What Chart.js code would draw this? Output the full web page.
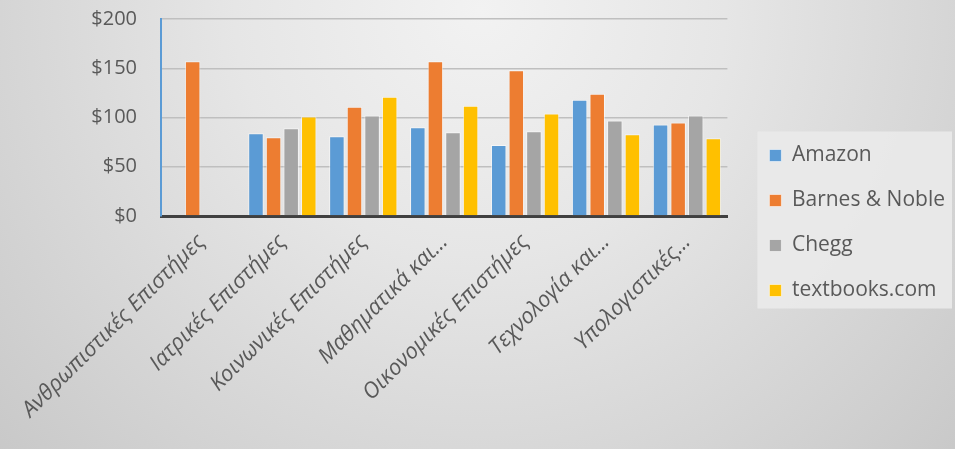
<!DOCTYPE html>
<html>
<head>
<meta charset="utf-8">
<script src="https://cdn.jsdelivr.net/npm/chart.js@4"></script>
<style>
  html, body { margin: 0; padding: 0; background: #d8d8d8; }
  #wrap { width: 955px; height: 449px; position: relative; }
</style>
</head>
<body>
<div id="wrap"><canvas id="barChart" width="955" height="449"></canvas></div>
<script>
const categories = [
    'Ανθρωπιστικές Επιστήμες',
    'Ιατρικές Επιστήμες',
    'Κοινωνικές Επιστήμες',
    'Μαθηματικά και...',
    'Οικονομικές Επιστήμες',
    'Τεχνολογία και...',
    'Υπολογιστικές...'
]

const amazon      = [null, 84, 81, 90, 72, 118, 93]
const barnesNoble = [157, 80, 111, 157, 148, 124, 95]
const chegg       = [null, 89, 102, 85, 86, 97, 102]
const textbooks   = [null, 101, 121, 112, 104, 83, 79]

const yTicks = [0, 50, 100, 150, 200]

const textColor = '#595959'

// background + legend panel, legend nudged to where Excel puts it
const backdrop = {
    id: 'backdrop',
    afterLayout(chart) {
        const lg = chart.legend
        lg.left += 18; lg.right += 18
        lg.top -= 11; lg.bottom -= 11
    },
    beforeDraw(chart) {
        const c = chart.ctx
        const w = chart.width, h = chart.height
        c.save()
        let g = c.createRadialGradient(480, 10, 0, 480, 10, 700)
        g.addColorStop(0, '#f2f2f2')
        g.addColorStop(0.35, '#e6e6e6')
        g.addColorStop(1, '#c5c5c5')
        c.fillStyle = g
        c.fillRect(0, 0, w, h)

        const lg = chart.legend
        const boxes = lg.legendHitBoxes
        if (boxes && boxes.length) {
            const n = boxes.length
            const pitch = n > 1 ? boxes[1].top - boxes[0].top : 45
            const firstC = lg.top + (lg.height - pitch * (n - 1)) / 2
            const lastC = firstC + pitch * (n - 1)
            const left = lg.left + 12
            c.fillStyle = 'rgba(234,234,234,0.9)'
            c.fillRect(left, firstC - 24, w - 3 - left, lastC - firstC + 42)
        }
        c.restore()
    }
}

const ctx = document.getElementById('barChart').getContext('2d')

const mkSet = (label, values, color) => ({
    label,
    data: values,
    backgroundColor: color,
    borderColor: 'rgba(255,255,255,0.55)',
    borderWidth: 1,
    categoryPercentage: 0.87,
    barPercentage: 0.88,
})

const config = {
    type: 'bar',
    data: {
        labels: categories,
        datasets: [
            mkSet('Amazon', amazon, '#5b9bd5'),
            mkSet('Barnes & Noble', barnesNoble, '#ed7d31'),
            mkSet('Chegg', chegg, '#a5a5a5'),
            mkSet('textbooks.com', textbooks, '#ffc000'),
        ],
    },
    options: {
        responsive: false,
        animation: false,
        layout: { padding: { top: 19, right: 18, bottom: 0, left: 0 } },
        plugins: {
            tooltip: { enabled: false },
            legend: {
                position: 'right',
                labels: {
                    boxWidth: 12,
                    boxHeight: 12,
                    padding: 24,
                    color: textColor,
                    font: { family: 'Open Sans', size: 21 },
                },
            },
        },
        scales: {
            x: {
                grid: { display: false },
                border: { color: '#404040', width: 3 },
                ticks: {
                    color: textColor,
                    minRotation: 45,
                    maxRotation: 45,
                    autoSkip: false,
                    padding: 5,
                    font: { family: 'Open Sans', size: 22, style: 'italic' },
                },
                afterFit: (s) => { s.height = 233 },
            },
            y: {
                min: 0,
                max: 200,
                afterBuildTicks: (s) => { s.ticks = yTicks.map(v => ({ value: v })) },
                grid: { color: '#bfbfbf', lineWidth: 1.5, drawTicks: true, tickLength: 22, tickColor: 'transparent' },
                border: { color: '#5b9bd5', width: 2 },
                ticks: {
                    color: textColor,
                    padding: 2,
                    font: { family: 'Open Sans', size: 20 },
                    callback: (v) => '$' + v,
                },
                afterFit: (s) => { s.width = 161 },
            },
        },
    },
    plugins: [backdrop],
}

const myChart = new Chart(ctx, config)
</script>
</body>
</html>
